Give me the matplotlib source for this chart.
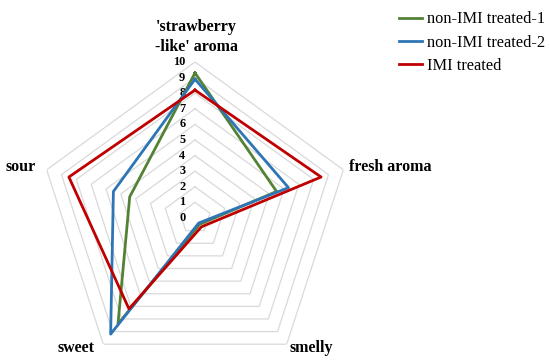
import matplotlib.pyplot as plt
import numpy as np

plt.rcParams['font.family'] = ['Liberation Serif', 'DejaVu Serif']

# radar data
categories = ["'strawberry\n-like' aroma", 'fresh aroma', 'smelly', 'sweet', 'sour']
non_imi_1 = [9.3, 5.5, 0.5, 8.4, 4.4]
non_imi_2 = [8.9, 6.3, 0.4, 9.2, 5.5]
imi = [8.2, 8.5, 0.7, 7.2, 8.5]
series_names = ['non-IMI treated-1', 'non-IMI treated-2', 'IMI treated']
r_ticks = list(range(0, 11))

colors = ['#548235', '#2e75b6', '#c00000']

n = len(categories)
angles = 2 * np.pi * np.arange(n) / n
angles_c = np.append(angles, angles[0])

fig = plt.figure(figsize=(5.5, 3.62), dpi=100)
# center at (195, 218) px, radius 156 px
ax = fig.add_axes([39 / 550, (144 - 156) / 362, 312 / 550, 312 / 362], projection='polar')
ax.set_theta_offset(np.pi / 2)
ax.set_theta_direction(-1)
ax.set_ylim(0, 10)
ax.grid(False)
ax.spines['polar'].set_visible(False)
ax.patch.set_visible(False)
ax.set_xticks([])
ax.set_yticks([])

# pentagon gridlines
for r in r_ticks[1:]:
    ax.plot(angles_c, [r] * (n + 1), color='#d9d9d9', lw=0.9, zorder=0)

# value labels along the top axis
for r in r_ticks:
    ax.annotate(str(r), (0, r), xytext=(-7, 0), textcoords='offset points',
                ha='right', va='center', fontsize=8.8, fontweight='bold',
                annotation_clip=False)

handles = []
for vals, name, c in zip([non_imi_1, non_imi_2, imi], series_names, colors):
    v = np.append(vals, vals[0])
    h, = ax.plot(angles_c, v, color=c, lw=2, label=name, zorder=3)
    handles.append(h)

# category labels
lab_pos = [((1, 5), 'center', 'bottom'),
           ((4, 2), 'left', 'center'),
           ((2, -3), 'left', 'center'),
           ((-6, -3), 'right', 'center'),
           ((-8, 2), 'right', 'center')]
for a, cat, (off, ha, va) in zip(angles, categories, lab_pos):
    ax.annotate(cat, (a, 10), xytext=off, textcoords='offset points',
                ha=ha, va=va, fontsize=11.5, fontweight='bold', linespacing=1.35,
                multialignment='center', annotation_clip=False)

fig.legend(handles=handles, loc='upper left', bbox_to_anchor=(0.705, 1.0),
           frameon=False, fontsize=11.8, handlelength=1.4, handletextpad=0.3,
           labelspacing=0.45, borderpad=0.2)

fig.savefig('out.png', dpi=100)
